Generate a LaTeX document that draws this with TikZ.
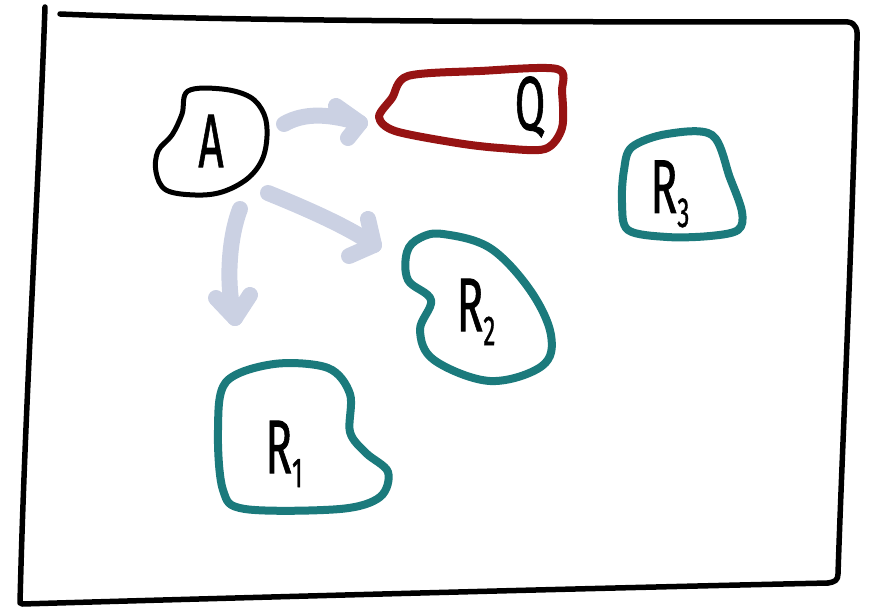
\documentclass[tikz,border=0pt]{standalone}
\usepackage{fontspec}
\setmainfont{Fira Sans}[FakeBold=1.2]
\definecolor{tealink}{HTML}{1B7A7C}
\definecolor{redink}{HTML}{961313}
\definecolor{chalk}{HTML}{CBD1E3}
\newcommand{\hand}[1]{\scalebox{0.58}[1]{\fontsize{76}{80}\selectfont #1}}
\newcommand{\handsub}[2]{\scalebox{0.58}[1]{\fontsize{76}{80}\selectfont #1\raisebox{-14pt}{\fontsize{42}{44}\selectfont #2}}}
\begin{document}
\begin{tikzpicture}[x=1pt,y=-1pt,
  frameline/.style={line width=5.5pt, line cap=round, line join=round, black},
  blobline/.style={line width=#1, line cap=round, line join=round},
  blackblob/.style={blobline=5pt, black},
  tealblob/.style={blobline=8pt, tealink},
  redblob/.style={blobline=8pt, redink},
  chalkarrow/.style={line width=16pt, line cap=round, line join=round, chalk},
  label/.style={inner sep=0pt, text=black}]
\useasboundingbox (0,0) rectangle (874,609);

% outer frame
\draw[frameline] (45,7) .. controls (38,200) and (25,400) .. (20,603);
\draw[frameline] (60,14) .. controls (250,22) and (600,22) .. (848,22)
  .. controls (856,23) and (858,30) .. (857,40)
  .. controls (852,250) and (842,450) .. (838,574)
  .. controls (838,580) and (835,582) .. (828,583);
\draw[frameline] (828,583) .. controls (600,588) and (300,596) .. (22,604);

% text nodes
\node[label] (A) at (211,141) {\hand{A}};
\node[label] (Q) at (530,107) {\hand{Q}};
\node[label] (R3) at (670,194) {\handsub{R}{3}};
\node[label] (R2) at (476,312) {\handsub{R}{2}};
\node[label] (R1) at (284,454) {\handsub{R}{1}};

% outlines around the nodes
\draw[blackblob] plot[smooth cycle, tension=0.6] coordinates {
  (188,91) (222,89) (250,97) (264,114) (267,136) (262,160) (247,179)
  (222,192) (195,195) (166,190) (156,172) (158,151) (172,135) (182,114)};
\draw[redblob] plot[smooth cycle, tension=0.5] coordinates {
  (408,76) (480,71) (557,69) (562,92) (562,128) (545,149) (500,148)
  (457,143) (395,131) (379,117) (392,98)};
\draw[tealblob] plot[smooth cycle, tension=0.55] coordinates {
  (632,147) (667,134) (712,135) (730,178) (742,212) (738,230) (710,236)
  (667,237) (628,230) (622,203) (624,170)};
\draw[tealblob] plot[smooth cycle, tension=0.6] coordinates {
  (443,234) (490,248) (530,290) (551,335) (542,366) (490,381) (434,360)
  (420,330) (431,300) (408,280) (407,252) (420,238)};
\draw[tealblob] plot[smooth cycle, tension=0.55] coordinates {
  (274,364) (328,368) (350,394) (350,432) (366,453) (388,472) (380,497)
  (340,509) (245,509) (223,490) (218,430) (226,382)};

% arrow end points
\coordinate (aqs) at (284,124);
\coordinate (aqe) at (360,123);
\coordinate (ars) at (268,193);
\coordinate (are) at (374,245);
\coordinate (als) at (240,209);
\coordinate (ale) at (235,318);

% chalk arrows from A
\draw[chalkarrow] (aqs) .. controls (305,112) and (330,114) .. (aqe);
\draw[chalkarrow] (336,106) -- (aqe) -- (348,138);
\draw[chalkarrow] (ars) .. controls (310,210) and (350,228) .. (are);
\draw[chalkarrow] (368,219) -- (are) -- (349,256);
\draw[chalkarrow] (als) .. controls (228,240) and (226,290) .. (ale);
\draw[chalkarrow] (216,298) -- (ale) -- (250,295);
\end{tikzpicture}
\end{document}
